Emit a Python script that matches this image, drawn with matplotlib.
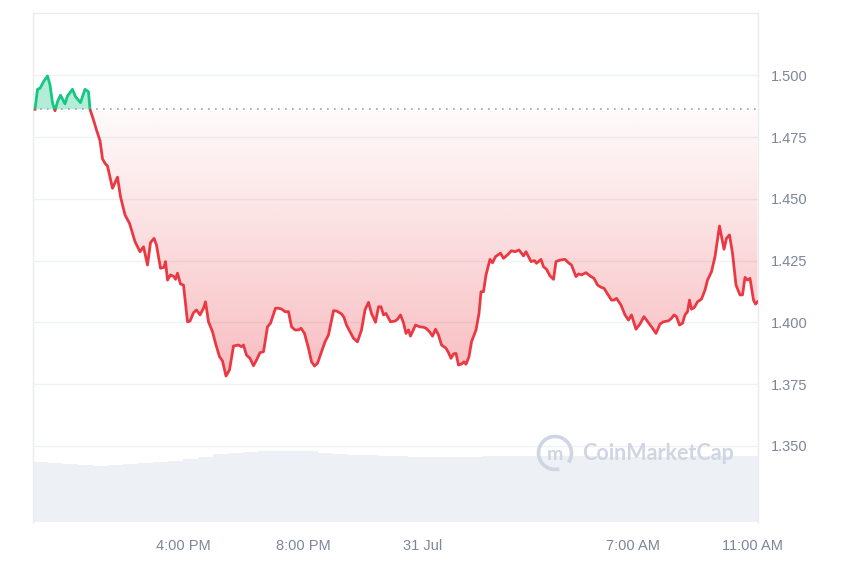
import numpy as np
import matplotlib
matplotlib.use("Agg")
import matplotlib.pyplot as plt
from matplotlib.path import Path
from matplotlib.patches import Rectangle, Arc
from matplotlib.colors import to_rgb

# ---------------- data (minutes since 11:00 AM, 30 Jul) ----------------
minutes = [4, 9, 14, 22, 29, 34, 39, 44, 49, 55, 64, 69, 79, 85, 95, 104, 111, 114,
           121, 127, 134, 139, 144, 149, 159, 169, 175, 184, 193, 204, 214, 221, 229,
           235, 242, 247, 255, 262, 265, 269, 275, 282, 285, 289, 295, 301, 309, 314,
           321, 327, 334, 341, 345, 351, 359, 366, 373, 379, 386, 393, 401, 411, 417,
           421, 427, 434, 441, 447, 454, 461, 469, 475, 485, 491, 497, 504, 511, 517,
           524, 531, 536, 543, 551, 557, 563, 569, 577, 584, 591, 601, 607, 617, 622,
           627, 634, 641, 649, 657, 664, 671, 677, 685, 691, 696, 701, 706, 715, 724,
           729, 735, 741, 746, 751, 755, 765, 773, 781, 786, 793, 799, 805, 811, 817,
           826, 831, 836, 841, 846, 851, 857, 862, 866, 872, 877, 886, 892, 896, 901,
           906, 914, 919, 925, 935, 941, 949, 957, 964, 972, 981, 986, 996, 1003, 1007,
           1016, 1021, 1027, 1034, 1041, 1046, 1054, 1064, 1071, 1077, 1086, 1091, 1097,
           1106, 1114, 1122, 1129, 1136, 1142, 1149, 1157, 1162, 1167, 1176, 1184, 1191,
           1197, 1206, 1214, 1222, 1231, 1239, 1246, 1254, 1261, 1271, 1277, 1282, 1287,
           1293, 1299, 1304, 1309, 1313, 1317, 1323, 1329, 1337, 1344, 1349, 1357, 1364,
           1373, 1382, 1387, 1393, 1399, 1406, 1414, 1419, 1424, 1429, 1434, 1441, 1445,
           1449]
price = [1.4863, 1.4944, 1.4948, 1.4978, 1.4998, 1.4962, 1.4889, 1.4857, 1.4894, 1.4920,
         1.4885, 1.4917, 1.4944, 1.4914, 1.4890, 1.4944, 1.4934, 1.4863, 1.4820, 1.4779,
         1.4736, 1.4662, 1.4644, 1.4633, 1.4543, 1.4588, 1.4509, 1.4435, 1.4401, 1.4327,
         1.4286, 1.4306, 1.4232, 1.4323, 1.4340, 1.4313, 1.4219, 1.4223, 1.4246, 1.4171,
         1.4192, 1.4185, 1.4174, 1.4199, 1.4155, 1.4151, 1.4002, 1.4005, 1.4039, 1.4050,
         1.4030, 1.4057, 1.4083, 1.4002, 1.3962, 1.3908, 1.3861, 1.3843, 1.3782, 1.3807,
         1.3904, 1.3908, 1.3901, 1.3908, 1.3867, 1.3854, 1.3824, 1.3847, 1.3877, 1.3881,
         1.3982, 1.3996, 1.4057, 1.4057, 1.4054, 1.4043, 1.4043, 1.3982, 1.3969, 1.3969,
         1.3976, 1.3955, 1.3895, 1.3840, 1.3823, 1.3834, 1.3881, 1.3921, 1.3949, 1.4047,
         1.4046, 1.4034, 1.4020, 1.3989, 1.3962, 1.3935, 1.3921, 1.3969, 1.4050, 1.4081,
         1.4036, 1.4000, 1.4063, 1.4063, 1.4030, 1.4036, 1.4002, 1.4005, 1.4012, 1.4030,
         1.3998, 1.3955, 1.3969, 1.3944, 1.3989, 1.3982, 1.3980, 1.3976, 1.3962, 1.3944,
         1.3972, 1.3949, 1.3908, 1.3895, 1.3877, 1.3854, 1.3872, 1.3874, 1.3827, 1.3831,
         1.3840, 1.3830, 1.3861, 1.3921, 1.3969, 1.4036, 1.4124, 1.4124, 1.4192, 1.4255,
         1.4241, 1.4266, 1.4280, 1.4259, 1.4273, 1.4290, 1.4286, 1.4293, 1.4269, 1.4286,
         1.4246, 1.4250, 1.4239, 1.4255, 1.4225, 1.4215, 1.4188, 1.4174, 1.4246, 1.4252,
         1.4255, 1.4241, 1.4232, 1.4185, 1.4196, 1.4192, 1.4201, 1.4188, 1.4178, 1.4151,
         1.4142, 1.4138, 1.4115, 1.4090, 1.4090, 1.4097, 1.4070, 1.4030, 1.4009, 1.4030,
         1.3972, 1.3993, 1.4023, 1.3998, 1.3976, 1.3955, 1.3993, 1.4002, 1.4006, 1.4016,
         1.4030, 1.4023, 1.3989, 1.3996, 1.4030, 1.4043, 1.4090, 1.4053, 1.4061, 1.4083,
         1.4094, 1.4131, 1.4171, 1.4205, 1.4266, 1.4390, 1.4296, 1.4340, 1.4354, 1.4280,
         1.4151, 1.4111, 1.4111, 1.4182, 1.4171, 1.4178, 1.4090, 1.4074, 1.4083]
base_price = 1.4863

vol_minutes = list(range(0, 1441, 30))
volume = [6.0, 5.9, 5.8, 5.7, 5.6, 5.7, 5.8, 5.9, 6.0, 6.1, 6.3, 6.5, 6.8, 6.9, 7.0,
          7.1, 7.1, 7.1, 7.1, 6.9, 6.8, 6.7, 6.7, 6.6, 6.6, 6.55, 6.55, 6.55, 6.55,
          6.55, 6.6, 6.65, 6.65, 6.6, 6.6, 6.6, 6.6, 6.6, 6.55, 6.55, 6.55, 6.55,
          6.55, 6.55, 6.6, 6.6, 6.6, 6.6, 6.6]

y_ticks = [1.350, 1.375, 1.400, 1.425, 1.450, 1.475, 1.500]
x_tick_minutes = [300, 540, 780, 1200, 1440]
x_tick_labels = ["4:00 PM", "8:00 PM", "31 Jul", "7:00 AM", "11:00 AM"]

# ---------------- style ----------------
RED = "#ea3943"
GREEN = "#16c784"
GRID = "#eff1f4"
LABEL = "#7d8799"
XMAX = 1450
YMIN, YMAX = 1.3191, 1.5253

t = np.array(minutes, dtype=float)
p = np.array(price, dtype=float)

fig = plt.figure(figsize=(8.5, 5.67), dpi=100)
ax = fig.add_axes([33 / 850, 1 - 522 / 567, (758 - 33) / 850, (522 - 13) / 567])
ax2 = ax.twinx()
ax.set_zorder(ax2.get_zorder() + 1)
ax.patch.set_visible(False)

# volume
ax2.bar(vol_minutes, volume, width=30, align="edge", color="#edf0f4", linewidth=0)
ax2.set_ylim(0, 50.9)
ax2.set_xlim(0, XMAX)
ax2.axis("off")

# grid
for yt in y_ticks:
    ax.axhline(yt, color=GRID, lw=1.0, zorder=0)

# red gradient fill (below baseline)
n = 300
ys = np.linspace(1.36, base_price, n)
alpha = np.interp(ys, [1.378, base_price], [0.33, 0.02])
rgba = np.zeros((n, 1, 4))
rgba[:, 0, :3] = to_rgb(RED)
rgba[:, 0, 3] = alpha
im = ax.imshow(rgba, extent=[0, XMAX, 1.36, base_price], origin="lower",
               aspect="auto", zorder=1, interpolation="bilinear")
poly = ax.fill_between(t, p, base_price, where=p <= base_price, interpolate=True,
                       facecolor="none", edgecolor="none")
clip = Path.make_compound_path(*poly.get_paths())
im.set_clip_path(clip, transform=ax.transData)

# green fill (above baseline)
ax.fill_between(t, p, base_price, where=p >= base_price, interpolate=True,
                facecolor=GREEN, alpha=0.32, edgecolor="none", zorder=1)

# baseline
ax.axhline(base_price, color="#9aa3b0", lw=1.2, ls=(0, (1, 3.2)), zorder=2)

# price line split at baseline
below = Rectangle((0, YMIN), XMAX, base_price - YMIN, transform=ax.transData)
above = Rectangle((0, base_price), XMAX, YMAX - base_price, transform=ax.transData)
l1, = ax.plot(t, p, color=RED, lw=2.0, solid_joinstyle="round", zorder=3)
l1.set_clip_path(below)
l2, = ax.plot(t, p, color=GREEN, lw=2.0, solid_joinstyle="round", zorder=3)
l2.set_clip_path(above)

ax.set_xlim(0, XMAX)
ax.set_ylim(YMIN, YMAX)

ax.yaxis.tick_right()
ax.set_yticks(y_ticks)
ax.set_yticklabels([f"{v:.3f}" for v in y_ticks])
ax.set_xticks(x_tick_minutes)
ax.set_xticklabels(x_tick_labels)
ax.tick_params(axis="y", length=0, pad=9, labelsize=10.5, labelcolor=LABEL)
ax.tick_params(axis="x", length=0, pad=12, labelsize=10.5, labelcolor=LABEL)
for lab in ax.get_xticklabels() + ax.get_yticklabels():
    lab.set_fontfamily("Liberation Sans")

for side in ["left", "top", "right"]:
    ax.spines[side].set_color("#e8ebef")
    ax.spines[side].set_linewidth(1.0)
ax.spines["bottom"].set_visible(False)

# watermark
WM = "#cfd6e3"
arc = Arc((5.55, 1.14), 0.33, 0.33, theta1=-35, theta2=285, lw=2.6, color=WM,
          transform=fig.dpi_scale_trans, zorder=10)
fig.add_artist(arc)
fig.text(555 / 850, 1 - 454 / 567, "m", ha="center", va="center", fontsize=14,
         color=WM, family="Lato", weight="bold", zorder=10)
fig.text(582 / 850, 1 - 454 / 567, "CoinMarketCap", ha="left", va="center",
         fontsize=15.5, color=WM, family="Lato", weight="bold", zorder=10)

fig.savefig("out.png", dpi=100)
